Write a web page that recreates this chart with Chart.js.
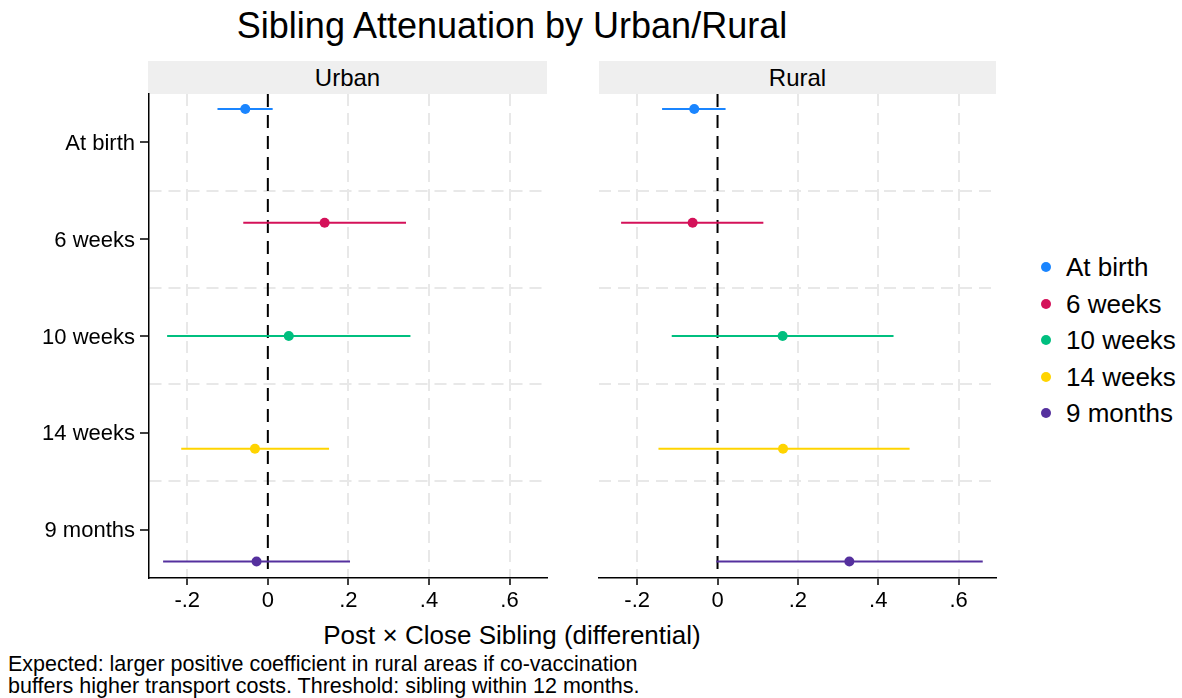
<!DOCTYPE html>
<html>
<head>
<meta charset="utf-8">
<script src="https://cdn.jsdelivr.net/npm/chart.js@4"></script>
<style>
  body { margin: 0; background: #fff; font-family: "Liberation Sans", Arial, sans-serif; color: #000; }
  #page { position: relative; width: 1182px; height: 698px; overflow: hidden; }
  .abs { position: absolute; white-space: nowrap; }
  .strip { position: absolute; top: 61px; height: 33px; line-height: 33px; background: #efefef; text-align: center; font-size: 24px; }
  .legend-item { position: absolute; left: 1040px; font-size: 26px; line-height: 30px; }
  .legend-item span.dot { position: absolute; left: 1px; top: 10px; width: 10px; height: 10px; border-radius: 50%; }
  .legend-item span.txt { position: absolute; left: 26px; top: 0; white-space: nowrap; }
  canvas { position: absolute; }
</style>
</head>
<body>
<div id="page">
  <div class="abs" style="left:0; width:1024px; top:4px; text-align:center; font-size:36px; line-height:44px;">Sibling Attenuation by Urban/Rural</div>
  <div class="strip" style="left:148px; width:399px;">Urban</div>
  <div class="strip" style="left:599px; width:397px;">Rural</div>
  <canvas id="urban" width="560" height="544" style="left:0; top:74px;"></canvas>
  <canvas id="rural" width="420" height="544" style="left:589px; top:74px;"></canvas>
  <div class="abs" style="left:0; width:1024px; top:620px; text-align:center; font-size:26px; line-height:30px;">Post × Close Sibling (differential)</div>
  <div id="legend"></div>
  <div class="abs" style="left:8px; top:653px; font-size:21.5px; line-height:22px;">Expected: larger positive coefficient in rural areas if co-vaccination<br>buffers higher transport costs. Threshold: sibling within 12 months.</div>
</div>
<script>
const categories = ["At birth", "6 weeks", "10 weeks", "14 weeks", "9 months"];
const urbanCoef = [-0.056, 0.141, 0.052, -0.032, -0.028];
const urbanLo = [-0.125, -0.061, -0.250, -0.215, -0.260];
const urbanHi = [0.012, 0.343, 0.354, 0.152, 0.204];
const ruralCoef = [-0.058, -0.062, 0.162, 0.163, 0.328];
const ruralLo = [-0.138, -0.240, -0.114, -0.147, -0.003];
const ruralHi = [0.020, 0.114, 0.438, 0.478, 0.660];
const xTicks = [-0.2, 0, 0.2, 0.4, 0.6];

const colors = ["#1a85ff", "#d41159", "#00bf7f", "#ffd400", "#55309e"];
const offsets = [-0.345, -0.17, 0, 0.165, 0.33]; // dodge inside each band
const yTickVals = [1, 1.5, 2, 2.5, 3, 3.5, 4, 4.5, 5];
const gridColor = "#e8e8e8";

Chart.defaults.color = "#000";
Chart.defaults.font.family = '"Liberation Sans", Arial, sans-serif';

function fmtX(v) {
  if (v === 0) return "0";
  return v.toFixed(1).replace("0.", ".");
}

function makePanel(id, coef, lo, hi, showY) {
  const datasets = [];
  categories.forEach((name, i) => {
    const y = i + 1 + offsets[i];
    datasets.push({
      label: name + " CI",
      data: [{ x: lo[i], y: y }, { x: hi[i], y: y }],
      showLine: true,
      borderColor: colors[i],
      borderWidth: 2,
      pointRadius: 0,
      order: 2
    });
    datasets.push({
      label: name,
      data: [{ x: coef[i], y: y }],
      backgroundColor: colors[i],
      borderColor: colors[i],
      pointRadius: 5,
      pointBorderWidth: 0,
      order: 1
    });
  });
  // reference line at zero
  datasets.push({
    label: "zero",
    data: [{ x: 0, y: 0.5 }, { x: 0, y: 5.5 }],
    showLine: true,
    borderColor: "#000",
    borderWidth: 2,
    borderDash: [13, 8],
    pointRadius: 0,
    order: 3
  });

  new Chart(document.getElementById(id), {
    type: "scatter",
    data: { datasets: datasets },
    options: {
      responsive: false,
      animation: false,
      layout: { padding: { top: 20, right: 13, left: 0, bottom: 0 } },
      plugins: { legend: { display: false }, tooltip: { enabled: false } },
      scales: {
        x: {
          type: "linear",
          min: -0.295,
          max: 0.693,
          afterBuildTicks: (s) => { s.ticks = xTicks.map((v) => ({ value: v })); },
          afterFit: (s) => { s.height = 40; },
          ticks: { callback: (v) => fmtX(v), font: { size: 22 }, padding: 3, maxRotation: 0, autoSkip: false },
          grid: {
            color: (c) => (c.tick && c.tick.value === 0 ? "transparent" : gridColor),
            lineWidth: 2,
            tickColor: "#000",
            tickWidth: 1.5,
            tickLength: 7
          },
          border: { display: true, color: "#000", width: 1.5, dash: [12, 7] }
        },
        y: {
          type: "linear",
          min: 0.5,
          max: 5.5,
          reverse: true,
          afterBuildTicks: (s) => { s.ticks = yTickVals.map((v) => ({ value: v })); },
          afterFit: (s) => { s.width = showY ? 149 : 10; },
          ticks: {
            display: showY,
            autoSkip: false,
            font: { size: 22 },
            padding: 5,
            labelOffset: 1.5,
            callback: (v) => (Number.isInteger(v) ? categories[v - 1] : "")
          },
          grid: {
            color: (c) => (c.tick && Number.isInteger(c.tick.value) ? "transparent" : gridColor),
            lineWidth: 2,
            drawTicks: showY,
            tickColor: (c) => (c.tick && Number.isInteger(c.tick.value) ? "#000" : "transparent"),
            tickWidth: 1.5,
            tickLength: 9
          },
          border: { display: showY, color: "#000", width: 1.5, dash: [12, 7] }
        }
      }
    }
  });
}

makePanel("urban", urbanCoef, urbanLo, urbanHi, true);
makePanel("rural", ruralCoef, ruralLo, ruralHi, false);

// legend
const legend = document.getElementById("legend");
const legendTop = 252;
categories.forEach((name, i) => {
  const item = document.createElement("div");
  item.className = "legend-item";
  item.style.top = (legendTop + i * 36.5) + "px";
  item.innerHTML = '<span class="dot" style="background:' + colors[i] + '"></span><span class="txt">' + name + "</span>";
  legend.appendChild(item);
});
</script>
</body>
</html>
